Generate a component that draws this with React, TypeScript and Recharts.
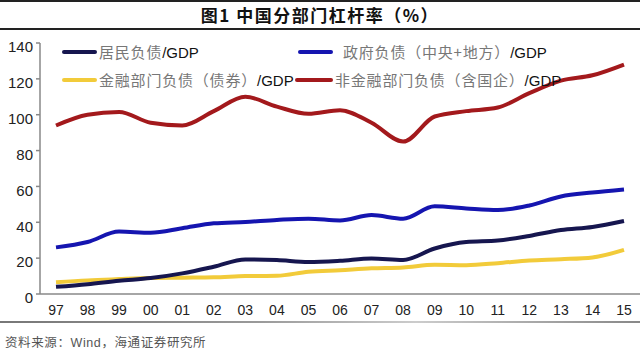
import React from 'react';
import { LineChart, Line, XAxis, YAxis } from 'recharts';

const years = ['97','98','99','00','01','02','03','04','05','06','07','08','09','10','11','12','13','14','15'];
const household = [4, 5.5, 7.4, 8.9, 11.5, 15.2, 19.3, 18.9, 17.8, 18.5, 19.8, 19, 25.4, 29, 29.8, 32.4, 35.7, 37.4, 40.7];
const government = [26, 29, 34.8, 34.2, 36.7, 39.4, 40.2, 41.3, 42, 41, 44, 42, 48.9, 47.7, 46.8, 49.4, 54.4, 56.6, 58.3];
const financial = [6.5, 7.6, 8.3, 8.9, 9.1, 9.3, 10, 10.2, 12.4, 13.3, 14.3, 14.8, 16.3, 16.1, 17.2, 18.7, 19.4, 20.4, 24.6];
const nonFinancial = [94, 100, 101.5, 95.5, 94, 102, 110, 104.5, 100.5, 102.5, 95.5, 85, 99, 102, 104, 112, 119, 122, 128];
const yTicks = [0, 20, 40, 60, 80, 100, 120, 140];
const boundaryTicks = Array.from({ length: years.length + 1 }, (_, i) => i);

const seriesNames = {
  household: '居民负债',
  government: '政府负债（中央+地方）',
  financial: '金融部门负债（债券）',
  nonFinancial: '非金融部门负债（含国企）',
};
const colors = {
  household: '#16164f',
  government: '#1515b0',
  financial: '#f2cb3a',
  nonFinancial: '#a3191c',
};

const data = years.map((y, i) => ({
  year: y,
  household: household[i],
  government: government[i],
  financial: financial[i],
  nonFinancial: nonFinancial[i],
}));

const legendItems: { key: keyof typeof colors; lineLeft: number; lineWidth: number; textLeft: number; top: number }[] = [
  { key: 'household', lineLeft: 62, lineWidth: 35, textLeft: 99, top: 52 },
  { key: 'government', lineLeft: 298, lineWidth: 35, textLeft: 343, top: 52 },
  { key: 'financial', lineLeft: 62, lineWidth: 35, textLeft: 99, top: 80 },
  { key: 'nonFinancial', lineLeft: 295, lineWidth: 38, textLeft: 335, top: 80 },
];

const numFont = '"Liberation Sans", Arial, sans-serif';
const cjkFont = '"Noto Sans CJK SC", sans-serif';

export default function App() {
  return (
    <div style={{ position: 'absolute', left: 0, top: 0, width: 640, height: 354, background: '#fff', overflow: 'hidden' }}>
      <div style={{ position: 'absolute', left: 0, top: 0, width: 640, height: 2, background: '#222' }} />
      <div style={{ position: 'absolute', left: 0, top: 1, width: 640, height: 27, lineHeight: '27px', textAlign: 'center', fontFamily: cjkFont, fontWeight: 700, fontSize: 17, letterSpacing: 1.5, color: '#111' }}>
        图1 中国分部门杠杆率（%）
      </div>
      <div style={{ position: 'absolute', left: 0, top: 28, width: 640, height: 2, background: '#222' }} />

      <LineChart width={640} height={354} data={data} margin={{ top: 43, right: 0, left: 0, bottom: 30 }} style={{ position: 'absolute', left: 0, top: 0 }}>
        <XAxis
          xAxisId="b"
          type="number"
          domain={[0, years.length]}
          ticks={boundaryTicks}
          allowDataOverflow
          axisLine={false}
          tick={false}
          tickLine={{ stroke: '#888', strokeWidth: 1.5 }}
          tickSize={5}
          height={0}
        />
        <XAxis
          dataKey="year"
          padding={{ left: 16, right: 16 }}
          axisLine={{ stroke: '#888', strokeWidth: 1.5 }}
          tickLine={false}
          tickSize={6}
          tickMargin={5}
          interval={0}
          height={30}
          tick={{ fill: '#222', fontSize: 14, fontFamily: numFont }}
        />
        <YAxis
          domain={[0, 140]}
          ticks={yTicks}
          width={40}
          axisLine={{ stroke: '#888', strokeWidth: 1.5 }}
          tickLine={{ stroke: '#888', strokeWidth: 1.5 }}
          tickSize={4}
          tickMargin={3}
          tick={{ fill: '#222', fontSize: 15, fontFamily: numFont, dy: 4 }}
        />
        <Line dataKey="financial" stroke={colors.financial} strokeWidth={4} dot={false} type="monotone" isAnimationActive={false} />
        <Line dataKey="household" stroke={colors.household} strokeWidth={4} dot={false} type="monotone" isAnimationActive={false} />
        <Line dataKey="government" stroke={colors.government} strokeWidth={4} dot={false} type="monotone" isAnimationActive={false} />
        <Line dataKey="nonFinancial" stroke={colors.nonFinancial} strokeWidth={4} dot={false} type="monotone" isAnimationActive={false} />
      </LineChart>

      {legendItems.map((it) => (
        <React.Fragment key={it.key}>
          <div style={{ position: 'absolute', left: it.lineLeft, top: it.top - 2, width: it.lineWidth, height: 4, background: colors[it.key], borderRadius: 2 }} />
          <div style={{ position: 'absolute', left: it.textLeft, top: it.top - 11, height: 22, lineHeight: '22px', whiteSpace: 'nowrap', fontSize: 15 }}>
            <span style={{ fontFamily: cjkFont, color: '#777', letterSpacing: 0.8 }}>{seriesNames[it.key]}</span>
            <span style={{ fontFamily: numFont, color: '#111' }}>/GDP</span>
          </div>
        </React.Fragment>
      ))}

      <div style={{ position: 'absolute', left: 0, top: 321, width: 640, height: 2, background: 'linear-gradient(to right, #777, #999 40%, #ccc 65%, #888)' }} />
      <div style={{ position: 'absolute', left: 5, top: 333, height: 18, lineHeight: '18px', whiteSpace: 'nowrap', fontSize: 12.5, color: '#555', letterSpacing: 0.6 }}>
        <span style={{ fontFamily: cjkFont }}>资料来源：</span>
        <span style={{ fontFamily: numFont }}>Wind</span>
        <span style={{ fontFamily: cjkFont }}>，海通证券研究所</span>
      </div>
    </div>
  );
}
